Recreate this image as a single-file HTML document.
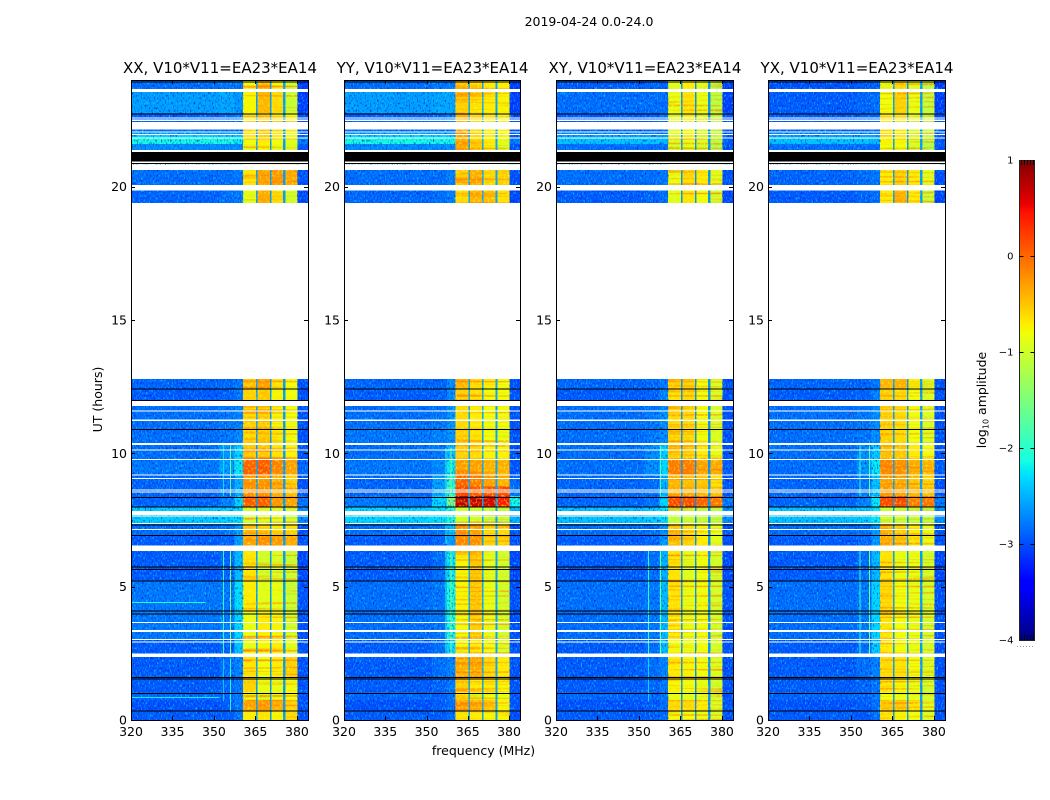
<!DOCTYPE html>
<html lang="en">
<head>
<meta charset="utf-8">
<title>2019-04-24 0.0-24.0 dynamic spectra</title>
<style>
html,body{margin:0;padding:0;background:#fff;width:1050px;height:800px;overflow:hidden}
svg{display:block}
text{font-family:"DejaVu Sans","Liberation Sans",sans-serif;fill:#000}
.tick{font-size:12.5px}
.cb{font-size:10px}
.ttl{font-size:15px}
</style>
</head>
<body>
<svg id="fig" xmlns="http://www.w3.org/2000/svg" width="1050" height="800" viewBox="0 0 1050 800">
<defs>
<filter id="speckleLight" x="0" y="0" width="100%" height="100%" color-interpolation-filters="sRGB">
<feTurbulence type="fractalNoise" baseFrequency="0.75 0.4" numOctaves="1" seed="7"/>
<feColorMatrix type="matrix" values="0 0 0 0 0  0 0 0 0 .8  0 0 0 0 1  3.5 0 0 0 -1.8"/>
</filter>
<filter id="speckleDark" x="0" y="0" width="100%" height="100%" color-interpolation-filters="sRGB">
<feTurbulence type="fractalNoise" baseFrequency="0.75 0.4" numOctaves="1" seed="23"/>
<feColorMatrix type="matrix" values="0 0 0 0 0  0 0 0 0 .1  0 0 0 0 .85  0 3 0 0 -1.6"/>
</filter>
<filter id="stripeHot" x="0" y="0" width="100%" height="100%" color-interpolation-filters="sRGB">
<feTurbulence type="fractalNoise" baseFrequency="0.01 0.42" numOctaves="1" seed="11"/>
<feColorMatrix type="matrix" values="0 0 0 0 1  0 0 0 0 .42  0 0 0 0 0  2.5 0 0 0 -1.25"/>
</filter>
<filter id="stripeCool" x="0" y="0" width="100%" height="100%" color-interpolation-filters="sRGB">
<feTurbulence type="fractalNoise" baseFrequency="0.5 0.4" numOctaves="1" seed="31"/>
<feColorMatrix type="matrix" values="0 0 0 0 .95  0 0 0 0 1  0 0 0 0 .15  0 2.5 0 0 -1.3"/>
</filter>
<linearGradient id="jetGradient" x1="0" y1="1" x2="0" y2="0"></linearGradient>
</defs>
<rect width="1050" height="800" fill="#fff"/>
<text x="589" y="26" text-anchor="middle" style="font-size:12.5px">2019-04-24 0.0-24.0</text>
<text x="483.5" y="755" text-anchor="middle" class="tick">frequency (MHz)</text>
<text transform="translate(102,399.5) rotate(-90)" text-anchor="middle" class="tick">UT (hours)</text>
<g id="panels"></g>
<g id="colorbar">
<rect x="1019.5" y="160.5" width="15" height="480" fill="url(#jetGradient)" stroke="#222" stroke-width="1"/>
<text transform="translate(986,400) rotate(-90)" text-anchor="middle" class="tick">log<tspan font-size="8" dy="2.5">10</tspan><tspan dy="-2.5"> amplitude</tspan></text>
<line x1="1017" x2="1035" y1="646.5" y2="646.5" stroke="#999" stroke-width="1" stroke-dasharray="1 2"/>
</g>
</svg>
<script>
// Data grid --------------------------------------------------------------
const panelTitles = ["XX, V10*V11=EA23*EA14", "YY, V10*V11=EA23*EA14", "XY, V10*V11=EA23*EA14", "YX, V10*V11=EA23*EA14"];
const freqTicks = [320, 335, 350, 365, 380];
const hourTicks = [0, 5, 10, 15, 20];
const colorTicks = [1, 0, -1, -2, -3, -4];
// Frequency column edges (MHz)
const freqEdges = [320, 352, 357.5, 360.5, 365.2, 365.8, 370.2, 370.8, 375.0, 375.8, 380.2, 384];
// Which value of each row fills a frequency column (-1 is the guard channel between sub-bands)
const columnSource = [0, 1, 2, 3, -1, 4, -1, 5, -1, 6, 7];
const gapLevels = [-2.6, -2.55, -2.65, -2.6];
// Lower edge of every time row (hours), last entry closes the grid
const rowHours = [0, .35, .75, 1.05, 1.6, 2.37, 3.0, 4.05, 5.2, 6.34, 6.9, 7.35, 8.0, 8.4, 8.75, 9.19, 9.8, 10.35, 10.95, 11.8, 12.4, 12.79, 19.39, 20.06, 20.62, 21.37, 21.6, 21.8, 22.0, 22.42, 22.76, 23.55, 24];

// Each row: left, near, pre, sub-band 1..4, right  (log10 amplitude)
const levelsXX = [
[-2.95,-2.95,-2.8,-.7,-.65,-.75,-.6,-3],
[-3,-2.95,-2.8,-.3,-.25,-.35,-.55,-3],
[-2.9,-2.9,-2.8,-.85,-.95,-.9,-.8,-3],
[-2.95,-2.9,-2.8,-.55,-.85,-.85,-.8,-3],
[-2.95,-2.85,-2.75,-.65,-.8,-.7,-.55,-3],
[-2.95,-2.9,-2.4,-.85,-.75,-.7,-.9,-3],
[-2.8,-2.75,-2.3,-.85,-.7,-.75,-1.0,-3],
[-2.8,-2.8,-2.25,-.7,-.9,-.85,-1.05,-3],
[-2.95,-2.9,-2.45,-.65,-1.0,-.95,-1.05,-3.05],
[-2.95,-2.9,-2.6,-.3,-.2,-.25,-.35,-3],
[-2.85,-2.8,-2.6,-.5,-.6,-.7,-.65,-3],
[-2.35,-2.3,-2.25,-1.0,-.95,-.9,-1.0,-2.7],
[-2.9,-2.75,-2.3,.1,.1,-.25,-.3,-2.8],
[-2.9,-2.8,-2.5,-.2,-.2,-.35,-.45,-3],
[-2.9,-2.8,-2.5,-.25,-.25,-.35,-.55,-3],
[-2.8,-2.6,-2.2,.05,.1,-.15,-.3,-2.9],
[-2.85,-2.65,-2.3,-.5,-.5,-.65,-.75,-3],
[-2.85,-2.8,-2.7,-.65,-.6,-.75,-.8,-3],
[-2.85,-2.8,-2.75,-.6,-.55,-.75,-.8,-3],
[-2.95,-2.9,-2.8,-.55,-.5,-.75,-.8,-3],
[-2.9,-2.9,-2.8,-.5,-.3,-.65,-.8,-3],
null,
[-2.9,-2.85,-2.8,-.9,-.35,-.6,-1.0,-3.05],
[-2.85,-2.85,-2.8,-.65,-.3,-.25,-.35,-3],
null,
[-2.7,-2.7,-2.7,-.85,-.75,-.85,-.95,-3],
[-2.1,-2.1,-2.2,-.8,-.7,-.8,-.9,-2.8],
[-2.3,-2.3,-2.35,-.7,-.55,-.7,-.8,-2.9],
[-2.85,-2.85,-2.85,-.6,-.5,-.65,-.8,-3],
[-2.9,-2.85,-2.8,-.75,-.6,-.75,-.8,-3],
[-2.6,-2.55,-2.65,-.75,-.4,-.6,-1.05,-3.1],
[-2.85,-2.8,-2.8,-.8,-.4,-.75,-1.05,-3.1]
];
const levelsYY = [
[-2.95,-2.95,-2.85,-.65,-.7,-.75,-.75,-3],
[-3,-2.95,-2.85,-.35,-.4,-.5,-.75,-3],
[-2.9,-2.9,-2.8,-.7,-.9,-.8,-.85,-3],
[-2.95,-2.9,-2.8,-.55,-.7,-.7,-.75,-3],
[-2.95,-2.85,-2.75,-.4,-.35,-.6,-.7,-3],
[-2.95,-2.85,-2.3,-.8,-.7,-.8,-.95,-3],
[-2.85,-2.8,-2.1,-.8,-.55,-.85,-1.0,-3],
[-2.85,-2.8,-2.1,-.75,-.5,-.85,-1.0,-3],
[-2.95,-2.85,-2.2,-.75,-.5,-.9,-1.0,-3.05],
[-2.95,-2.9,-2.6,-.15,-.2,-.55,-.55,-3],
[-2.85,-2.8,-2.4,-.2,-.3,-.6,-.6,-3],
[-2.3,-2.25,-2.05,-1.0,-1.0,-1.1,-1.1,-2.5],
[-2.8,-2.3,-1.4,.75,.7,.65,.45,-2.1],
[-2.9,-2.55,-1.9,.2,.1,.15,.2,-2.8],
[-2.9,-2.6,-2.0,.05,-.1,-.3,-.4,-2.9],
[-2.8,-2.7,-2.2,-.3,-.3,-.4,-.4,-3],
[-2.85,-2.8,-2.45,-.55,-.6,-.75,-.75,-3],
[-2.8,-2.75,-2.65,-.55,-.65,-.8,-.85,-3],
[-2.85,-2.8,-2.65,-.6,-.7,-.8,-.8,-3],
[-2.95,-2.9,-2.7,-.55,-.65,-.8,-.8,-3],
[-2.9,-2.9,-2.7,-.4,-.6,-.7,-.8,-3],
null,
[-2.9,-2.85,-2.75,-.6,-.4,-.45,-.65,-3.05],
[-2.85,-2.85,-2.75,-.55,-.4,-.6,-.55,-3],
null,
[-2.7,-2.7,-2.7,-.4,-.6,-.75,-.95,-3],
[-2.1,-2.1,-2.15,-.35,-.55,-.7,-.9,-2.8],
[-2.3,-2.3,-2.35,-.3,-.6,-.7,-.75,-2.9],
[-2.85,-2.85,-2.85,-.3,-.6,-.7,-.75,-3],
[-2.9,-2.85,-2.75,-.4,-.6,-.7,-.75,-3],
[-2.6,-2.55,-2.55,-.55,-.65,-.7,-.75,-3.1],
[-2.85,-2.8,-2.8,-.5,-.6,-.7,-.7,-3.1]
];
const levelsXY = [
[-2.95,-2.95,-2.85,-.8,-.8,-.85,-.95,-3],
[-3,-2.95,-2.85,-.6,-.6,-.7,-.95,-3],
[-2.9,-2.9,-2.8,-.85,-.9,-.9,-1.0,-3],
[-2.95,-2.9,-2.8,-.75,-.8,-.85,-1.0,-3],
[-2.95,-2.85,-2.75,-.7,-.75,-.8,-.95,-3],
[-2.95,-2.85,-2.45,-.8,-.85,-.8,-1.0,-3],
[-2.85,-2.8,-2.45,-.7,-.85,-.8,-1.0,-3],
[-2.85,-2.8,-2.45,-.65,-.85,-.8,-1.0,-3],
[-2.95,-2.85,-2.5,-.65,-.9,-.8,-1.0,-3.05],
[-2.95,-2.9,-2.65,-.45,-.55,-.7,-.9,-3],
[-2.85,-2.85,-2.65,-.5,-.65,-.75,-.85,-3],
[-2.4,-2.35,-2.25,-1.1,-1.05,-1.1,-1.15,-2.7],
[-2.9,-2.8,-2.3,.25,.2,.05,-.05,-2.8],
[-2.9,-2.85,-2.5,-.35,-.35,-.4,-.45,-3],
[-2.9,-2.85,-2.5,-.4,-.45,-.5,-.65,-3],
[-2.85,-2.7,-2.3,-.1,-.1,-.3,-.35,-2.95],
[-2.85,-2.7,-2.35,-.55,-.55,-.7,-.85,-3],
[-2.85,-2.8,-2.7,-.6,-.6,-.8,-.95,-3],
[-2.85,-2.8,-2.7,-.6,-.6,-.8,-.95,-3],
[-2.95,-2.9,-2.75,-.65,-.6,-.8,-.95,-3],
[-2.9,-2.9,-2.8,-.55,-.55,-.8,-.95,-3],
null,
[-2.95,-2.9,-2.85,-.9,-.65,-.8,-1.0,-3.05],
[-2.85,-2.85,-2.8,-.85,-.6,-.7,-.9,-3],
null,
[-2.85,-2.85,-2.85,-1.0,-.9,-1.0,-1.2,-3],
[-2.4,-2.4,-2.45,-.95,-.85,-.95,-1.15,-2.95],
[-2.55,-2.55,-2.6,-.9,-.75,-.95,-1.1,-2.95],
[-2.9,-2.9,-2.9,-.9,-.75,-.95,-1.1,-3],
[-2.95,-2.9,-2.85,-.9,-.75,-.9,-1.1,-3],
[-2.85,-2.85,-2.85,-.85,-.65,-.85,-1.15,-3.1],
[-2.95,-2.9,-2.9,-.9,-.7,-.9,-1.15,-3.1]
];
const levelsYX = [
[-2.95,-2.95,-2.85,-.65,-.75,-.8,-.95,-3],
[-3,-2.95,-2.85,-.5,-.5,-.65,-.9,-3],
[-2.9,-2.9,-2.8,-.8,-.85,-.9,-1.0,-3],
[-2.95,-2.9,-2.8,-.65,-.75,-.85,-1.0,-3],
[-2.95,-2.85,-2.75,-.6,-.65,-.8,-.95,-3],
[-2.95,-2.85,-2.35,-.7,-.8,-.85,-1.0,-3],
[-2.85,-2.8,-2.3,-.65,-.8,-.85,-1.0,-3],
[-2.85,-2.8,-2.3,-.6,-.8,-.85,-1.0,-3],
[-2.95,-2.85,-2.45,-.65,-.85,-.85,-1.0,-3.05],
[-2.95,-2.9,-2.65,-.35,-.45,-.65,-.85,-3],
[-2.85,-2.85,-2.6,-.4,-.55,-.7,-.85,-3],
[-2.4,-2.35,-2.2,-1.05,-1.05,-1.1,-1.15,-2.7],
[-2.9,-2.75,-2.2,.2,.2,-.1,-.05,-2.8],
[-2.9,-2.8,-2.4,-.25,-.3,-.4,-.45,-3],
[-2.9,-2.8,-2.4,-.3,-.35,-.5,-.6,-3],
[-2.85,-2.65,-2.2,-.15,-.2,-.35,-.4,-2.95],
[-2.85,-2.7,-2.35,-.45,-.5,-.7,-.8,-3],
[-2.85,-2.8,-2.7,-.55,-.6,-.8,-.95,-3],
[-2.85,-2.8,-2.7,-.55,-.6,-.8,-.95,-3],
[-2.95,-2.9,-2.75,-.55,-.6,-.8,-.95,-3],
[-2.9,-2.9,-2.8,-.4,-.4,-.75,-.95,-3],
null,
[-2.95,-2.9,-2.85,-.7,-.4,-.7,-1.05,-3.05],
[-2.9,-2.85,-2.8,-.7,-.55,-.7,-.9,-3],
null,
[-2.85,-2.85,-2.85,-.8,-.8,-1.0,-1.2,-3],
[-2.4,-2.4,-2.45,-.75,-.75,-.95,-1.15,-2.95],
[-2.55,-2.55,-2.6,-.65,-.7,-.95,-1.1,-2.95],
[-2.9,-2.9,-2.9,-.65,-.7,-.95,-1.1,-3],
[-2.95,-2.9,-2.85,-.7,-.7,-.9,-1.1,-3],
[-2.95,-2.9,-2.85,-.8,-.55,-.85,-1.1,-3.1],
[-3,-2.95,-2.9,-.85,-.6,-.9,-1.15,-3.1]
];

// Narrow RFI channels: frequency (MHz), start hour, end hour, level
const rfiXX = [[353.2,2.5,6.34,-2.0],[355.8,2.5,6.34,-1.4],[353.2,.7,2.3,-2.4],[355.8,.3,2.3,-2.1],[353.2,8.4,10.35,-2.3],[355.8,8.4,10.35,-1.7]];
const rfiYY = [[356.9,2.5,6.34,-2.0],[358.7,2.5,6.34,-1.6],[356.9,8.4,10.2,-2.0],[358.7,8.4,10.2,-1.6],[356.9,6.6,7.3,-2.1]];
const rfiXY = [[353.3,2.5,6.34,-2.0],[357.6,2.5,6.34,-1.6],[353.3,.7,2.3,-2.3],[357.6,8.4,10.3,-1.9]];
const rfiYX = [[353.0,2.5,6.34,-2.0],[356.5,2.5,6.34,-1.6],[353.0,8.4,10.3,-2.0],[356.5,8.4,10.3,-1.8]];
// Narrow time-domain interference: hour, start MHz, end MHz, level
const burstsXX = [[4.42,320,347,-2.1],[.87,320,352,-2.2],[22.18,351,354,0.3],[11.9,354,354.6,-.2]];
const burstsYY = [[22.18,351,354,0.2],[7.75,330,333,-1.2]];
const burstsXY = [[22.18,351,354,0.2],[11.5,350,350.6,.2]];
const burstsYX = [[22.18,351,354,0.2],[11.5,350,350.6,.2]];

// Flagged (blank) time ranges and dead integrations, shared by all panels
const flaggedRanges = [[23.55,23.67],[22.55,22.6],[22.47,22.51],[22.15,22.42],[22.03,22.06],[21.93,21.97],[21.8,21.84],[21.3,21.37],[20.62,20.82],[20.88,20.94],[19.85,20.06],[12.79,19.39],[11.77,11.98],[11.57,11.6],[11.22,11.26],[10.32,10.39],[10.1,10.14],[9.76,9.79],[9.17,9.2],[9.04,9.08],[8.6,8.64],[8.53,8.57],[7.69,7.84],[7.63,7.67],[7.35,7.39],[7.12,7.16],[6.34,6.55],[3.64,3.67],[3.3,3.37],[3.0,3.04],[2.91,2.95],[2.37,2.5]];
const deadRanges = [[20.94,21.3],[20.85,20.88]];
const deadLines = [23.94,22.74,12.44,12.0,10.92,8.37,8.01,7.33,6.93,5.75,5.66,5.24,4.1,4.0,1.62,1.56,1.02,.35];

const panelLevels = [levelsXX, levelsYY, levelsXY, levelsYX];
const panelRfi = [rfiXX, rfiYY, rfiXY, rfiYX];
const panelBursts = [burstsXX, burstsYY, burstsXY, burstsYX];

// Axis geometry ------------------------------------------------------------
const NS = "http://www.w3.org/2000/svg";
const panelLeft = [131, 344, 556, 768];
const panelWidths = [177, 176, 177, 177];
const plotTop = 80, plotBottom = 720;
const freqMin = 320, freqMax = 384, hourMin = 0, hourMax = 24;
function xScale(p, f) { return panelLeft[p] + (f - freqMin) / (freqMax - freqMin) * panelWidths[p]; }
function yScale(h) { return plotBottom - (h - hourMin) / (hourMax - hourMin) * (plotBottom - plotTop); }

const jetR = [[0,0],[.35,0],[.66,1],[.89,1],[1,.5]];
const jetG = [[0,0],[.125,0],[.375,1],[.64,1],[.91,0],[1,0]];
const jetB = [[0,.5],[.11,1],[.34,1],[.65,0],[1,0]];
function lerp(tbl, t) {
  for (let i = 1; i < tbl.length; i++) {
    if (t <= tbl[i][0]) {
      const a = tbl[i - 1], b = tbl[i];
      return a[1] + (b[1] - a[1]) * (t - a[0]) / (b[0] - a[0]);
    }
  }
  return tbl[tbl.length - 1][1];
}
function jet(t) {
  t = Math.max(0, Math.min(1, t));
  return "rgb(" + Math.round(255 * lerp(jetR, t)) + "," + Math.round(255 * lerp(jetG, t)) + "," + Math.round(255 * lerp(jetB, t)) + ")";
}
function levelColor(v) { return jet((v + 4) / 5); }

function mk(parent, tag, attrs) {
  const el = document.createElementNS(NS, tag);
  for (const k in attrs) el.setAttribute(k, attrs[k]);
  parent.appendChild(el);
  return el;
}

// Colour bar -----------------------------------------------------------------
const grad = document.getElementById("jetGradient");
[0,.11,.125,.34,.35,.375,.64,.65,.66,.89,.91,1].forEach(function (t) {
  mk(grad, "stop", { offset: t, "stop-color": jet(t) });
});
const cbar = document.getElementById("colorbar");
const cbTop = 160, cbBottom = 640;
colorTicks.forEach(function (v) {
  const y = cbBottom - (v + 4) / 5 * (cbBottom - cbTop);
  const label = mk(cbar, "text", { x: 1013.5, y: y + 3.5, "text-anchor": "end", class: "cb" });
  
  
  label.textContent = String(v).replace("-", "\u2212");
  if (v !== 1 && v !== -4) {
    const yy = Math.round(y) + .5;
    const l = mk(cbar, "path", { d: "M1019.5 " + yy + "h4M1034.5 " + yy + "h-4", stroke: "#000", fill: "none" });
    
    
  }
});
for (let x = 1021.5; x < 1034; x += 3) {
  const m = mk(cbar, "path", { d: "M" + x + " 160v5M" + x + " 640v-5", stroke: "#000", "stroke-width": .8, fill: "none" });
  
  
}

// Texture zones: [start MHz, end MHz]
const blueZones = [[320, 360.5], [380.2, 384]];
const bandZones = [[360.5, 365.2], [365.8, 370.2], [370.8, 375.0], [375.8, 380.2]];

// Panels -------------------------------------------------------------------
const root = document.getElementById("panels");
panelTitles.forEach(function (title, p) {
  const left = panelLeft[p];
  const right = left + panelWidths[p];
  const g = mk(root, "g", {});
  
  

  const cells = mk(g, "g", { "shape-rendering": "crispEdges" });
  
  
  panelLevels[p].forEach(function (row, r) {
    if (!row) return;
    const y0 = yScale(rowHours[r + 1]), y1 = yScale(rowHours[r]);
    columnSource.forEach(function (src, c) {
      const v = src < 0 ? gapLevels[p] : row[src];
      const x0 = xScale(p, freqEdges[c]), x1 = xScale(p, freqEdges[c + 1]);
      const cell = mk(cells, "rect", { x: x0, y: y0, width: x1 - x0, height: y1 - y0, fill: levelColor(v) });
      
      
    });
  });

  blueZones.forEach(function (z) {
    ["speckleLight", "speckleDark"].forEach(function (id) {
      const tex = mk(g, "rect", { x: xScale(p, z[0]), y: plotTop, width: xScale(p, z[1]) - xScale(p, z[0]), height: plotBottom - plotTop, filter: "url(#" + id + ")" });
      
      
    });
  });
  bandZones.forEach(function (z) {
    ["stripeHot", "stripeCool"].forEach(function (id) {
      const tex = mk(g, "rect", { x: xScale(p, z[0]), y: plotTop, width: xScale(p, z[1]) - xScale(p, z[0]), height: plotBottom - plotTop, filter: "url(#" + id + ")" });
      
      
    });
  });

  const marks = mk(g, "g", { "shape-rendering": "crispEdges" });
  
  
  panelRfi[p].forEach(function (d) {
    const x0 = xScale(p, d[0]);
    const y0 = yScale(d[2]), y1 = yScale(d[1]);
    const line = mk(marks, "rect", { x: x0, y: y0, width: 1, height: y1 - y0, fill: levelColor(d[3]) });
    
    
  });
  panelBursts[p].forEach(function (d) {
    const x0 = xScale(p, d[1]), x1 = xScale(p, d[2]);
    const line = mk(marks, "rect", { x: x0, y: yScale(d[0]), width: x1 - x0, height: 1, fill: levelColor(d[3]) });
    
    
  });

  const flags = mk(g, "g", { "shape-rendering": "crispEdges" });
  
  
  flaggedRanges.forEach(function (d) {
    const y0 = yScale(d[1]), y1 = yScale(d[0]);
    const w = mk(flags, "rect", { x: left, y: y0, width: panelWidths[p], height: Math.max(1, y1 - y0), fill: "#fff" });
    
    
  });
  deadRanges.forEach(function (d) {
    const y0 = yScale(d[1]), y1 = yScale(d[0]);
    const b = mk(flags, "rect", { x: left, y: y0, width: panelWidths[p], height: Math.max(1, y1 - y0), fill: "#000" });
    
    
  });
  deadLines.forEach(function (h) {
    const b = mk(flags, "rect", { x: left, y: yScale(h), width: panelWidths[p], height: 1, fill: "#000" });
    
    
  });

  const frame = mk(g, "rect", { x: left + .5, y: plotTop + .5, width: panelWidths[p], height: plotBottom - plotTop, fill: "none", stroke: "#000", "stroke-width": 1 });
  
  

  const ttl = mk(g, "text", { x: left + panelWidths[p] / 2 + .5, y: 73, "text-anchor": "middle", class: "ttl" });
  
  
  ttl.textContent = title;

  freqTicks.forEach(function (f) {
    const x = Math.round(xScale(p, f)) + .5;
    const t = mk(g, "path", { d: "M" + x + " " + plotBottom + "v-4M" + x + " " + plotTop + "v4", stroke: "#000", fill: "none" });
    
    
    const lab = mk(g, "text", { x: xScale(p, f), y: 736, "text-anchor": "middle", class: "tick" });
    
    
    lab.textContent = f;
  });
  hourTicks.forEach(function (h) {
    const y = Math.round(yScale(h)) + .5;
    const t = mk(g, "path", { d: "M" + left + " " + y + "h4M" + right + " " + y + "h-4", stroke: "#000", fill: "none" });
    
    
    const lab = mk(g, "text", { x: left - 4, y: yScale(h) + 4.5, "text-anchor": "end", class: "tick" });
    
    
    lab.textContent = h;
  });
});
</script>
</body>
</html>
